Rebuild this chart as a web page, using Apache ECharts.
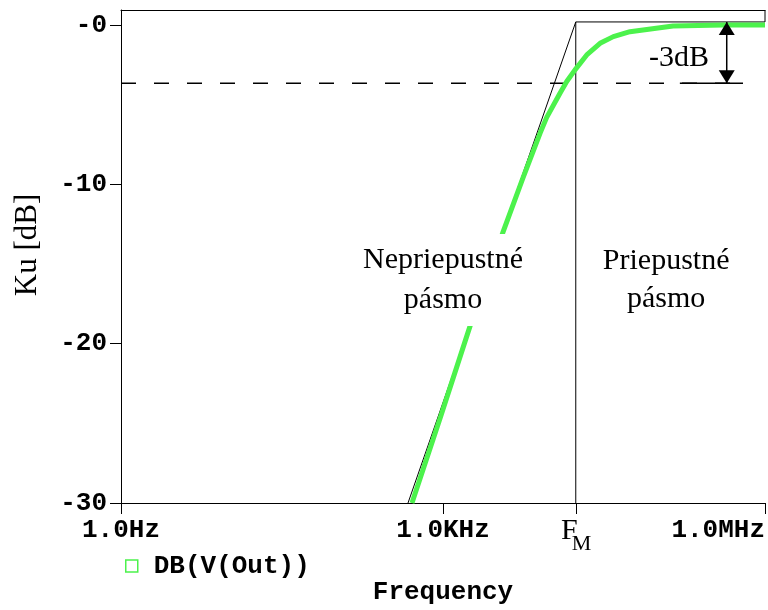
<!DOCTYPE html>
<html><head><meta charset="utf-8">
<script src="https://cdn.jsdelivr.net/npm/echarts@6/dist/echarts.min.js"></script>
<style>html,body{margin:0;padding:0;background:#fff}#c{width:768px;height:610px}</style>
</head><body><div id="c"></div>
<script>
// ---- data ----
const xTickValues = [1, 1000, 1000000];
const xTickLabels = ['1.0Hz', '1.0KHz', '1.0MHz'];
const yTickValues = [0, -10, -20, -30];
const yTickLabels = ['-0', '-10', '-20', '-30'];
const fM = 17260;                       // F_M corner frequency (Hz)
const seriesName = 'DB(V(Out))';
const greenFreq = [514, 958, 1786, 3622, 5560, 8017, 9250, 12300, 14210, 16980, 21830, 29040, 38630, 55210, 139000, 406000, 1000000];
const greenDb   = [-30, -24.5, -18.9, -13.0, -9.6, -6.8, -5.8, -4.28, -3.55, -2.82, -1.88, -1.15, -0.73, -0.42, -0.06, 0, 0];
const asymFreq = [472, fM, 1000000, 1000000];
const asymDb   = [-30, 0.19, 0.19, 0.94];
const fmLineDb = [0.19, -30];
const minus3Db = -3.65;
const dashFreq = [1, 623700];
const solidFreq = [161000, 623700];
const arrowFreq = 440000;
const arrowTopDb = 0.19;
const yMin = -30, yMax = 0.94;
const xMin = 1, xMax = 1000000;

const monoFont = 'Liberation Mono';
const serifFont = 'Liberation Serif';
const green = '#4cf24c';

const chart = echarts.init(document.getElementById('c'), null, {renderer: 'canvas'});
const zip = (a, b) => a.map((v, i) => [v, b[i]]);

chart.setOption({
  animation: false,
  backgroundColor: '#fff',
  grid: {left: 121, right: 3, top: 10, bottom: 106, containLabel: false},
  legend: {
    data: [{name: seriesName, icon: 'rect'}],
    left: 125, top: 553, padding: 0,
    itemWidth: 12, itemHeight: 12,
    itemStyle: {color: '#fff', borderColor: green, borderWidth: 1.5},
    textStyle: {fontFamily: monoFont, fontWeight: 'bold', fontSize: 26, color: '#000', padding: [0, 0, 0, 11]}
  },
  xAxis: [{
    type: 'log', logBase: 10, min: xMin, max: xMax, position: 'bottom',
    axisLine: {show: true, onZero: false, lineStyle: {color: '#000', width: 1}},
    axisTick: {show: true, length: 11, lineStyle: {color: '#000', width: 1}, customValues: [...xTickValues, fM]},
    axisLabel: {
      customValues: xTickValues,
      formatter: v => { const i = xTickValues.findIndex(t => Math.abs(Math.log10(t) - Math.log10(v)) < 1e-6); return i >= 0 ? xTickLabels[i] : ''; },
      fontFamily: monoFont, fontWeight: 'bold', fontSize: 26, color: '#000', margin: 14,
      alignMaxLabel: 'right'
    },
    splitLine: {show: false}, minorSplitLine: {show: false},
    name: 'Frequency', nameLocation: 'middle', nameGap: 76,
    nameTextStyle: {fontFamily: monoFont, fontWeight: 'bold', fontSize: 26, color: '#000'}
  }, {
    type: 'log', logBase: 10, min: xMin, max: xMax, position: 'top',
    axisLine: {show: true, onZero: false, lineStyle: {color: '#000', width: 1}},
    axisTick: {show: false}, axisLabel: {show: false}, splitLine: {show: false}
  }],
  yAxis: {
    type: 'value', min: yMin, max: yMax,
    axisLine: {show: true, onZero: false, lineStyle: {color: '#000', width: 1}},
    axisTick: {show: true, length: 11, lineStyle: {color: '#000', width: 1}, customValues: yTickValues},
    axisLabel: {
      customValues: yTickValues,
      formatter: v => { const i = yTickValues.findIndex(t => Math.abs(t - v) < 1e-6); return i >= 0 ? yTickLabels[i] : ''; },
      fontFamily: monoFont, fontWeight: 'bold', fontSize: 26, color: '#000', margin: 14
    },
    splitLine: {show: false}
  },
  series: [
    {
      name: 'asymptote', type: 'line', data: zip(asymFreq, asymDb), showSymbol: false, symbol: 'none',
      lineStyle: {color: '#000', width: 1}, z: 3, silent: true
    },
    {
      name: 'fm', type: 'line', data: zip([fM, fM], fmLineDb), showSymbol: false, symbol: 'none',
      lineStyle: {color: '#000', width: 1}, z: 3, silent: true
    },
    {
      name: 'dash', type: 'line', data: zip(dashFreq, [minus3Db, minus3Db]), showSymbol: false, symbol: 'none',
      lineStyle: {color: '#000', width: 1.5, type: [15, 18]}, z: 3, silent: true
    },
    {
      name: 'dashSolid', type: 'line', data: zip(solidFreq, [minus3Db, minus3Db]), showSymbol: false, symbol: 'none',
      lineStyle: {color: '#000', width: 1.5}, z: 3, silent: true
    },
    {
      name: seriesName, type: 'line', data: zip(greenFreq, greenDb), showSymbol: false, symbol: 'none',
      smooth: false, lineStyle: {color: green, width: 5, join: 'round'}, itemStyle: {color: green}, z: 4
    },
    {
      name: 'arrow', type: 'line', data: zip([arrowFreq, arrowFreq], [arrowTopDb, minus3Db]), showSymbol: false, symbol: 'none',
      lineStyle: {color: '#000', width: 1.5}, z: 5, silent: true
    }
  ]
});

const P = (x, y) => chart.convertToPixel({xAxisIndex: 0, yAxisIndex: 0}, [x, y]);
const nep = P(1000, -16);
const pri = P(120000, -16);
const m3 = P(158000, -2.07);
const fmBase = P(fM, yMin);
const aTop = P(arrowFreq, arrowTopDb);
const aBot = P(arrowFreq, minus3Db);
const hw = 8, hh = 13;

chart.setOption({
  graphic: [
    {type: 'text', z: 100, x: nep[0], y: nep[1], style: {
      text: 'Nepriepustné\npásmo', align: 'center', verticalAlign: 'middle',
      font: '30px "' + serifFont + '"', fill: '#000', lineHeight: 40,
      backgroundColor: '#fff', padding: [6, 4]
    }},
    {type: 'text', z: 100, x: pri[0], y: pri[1], style: {
      text: 'Priepustné\npásmo', align: 'center', verticalAlign: 'middle',
      font: '30px "' + serifFont + '"', fill: '#000', lineHeight: 38
    }},
    {type: 'text', z: 100, x: m3[0], y: m3[1], style: {
      text: '-3dB', align: 'center', verticalAlign: 'middle',
      font: '30px "' + serifFont + '"', fill: '#000'
    }},
    {type: 'text', z: 100, x: fmBase[0] + 2, y: fmBase[1] + 28, style: {
      text: 'F', align: 'right', verticalAlign: 'middle',
      font: '30px "' + serifFont + '"', fill: '#000'
    }},
    {type: 'text', z: 100, x: fmBase[0] - 4, y: fmBase[1] + 41, style: {
      text: 'M', align: 'left', verticalAlign: 'middle',
      font: '22px "' + serifFont + '"', fill: '#000'
    }},
    {type: 'text', z: 100, x: 28, y: 245, rotation: Math.PI / 2, style: {
      text: 'Ku [dB]', align: 'center', verticalAlign: 'middle',
      font: '31px "' + serifFont + '"', fill: '#000'
    }},
    {type: 'polygon', z: 100, shape: {points: [[aTop[0], aTop[1]], [aTop[0] - hw, aTop[1] + hh], [aTop[0] + hw, aTop[1] + hh]]}, style: {fill: '#000'}},
    {type: 'polygon', z: 100, shape: {points: [[aBot[0], aBot[1]], [aBot[0] - hw, aBot[1] - hh], [aBot[0] + hw, aBot[1] - hh]]}, style: {fill: '#000'}}
  ]
});
</script>
</body></html>
